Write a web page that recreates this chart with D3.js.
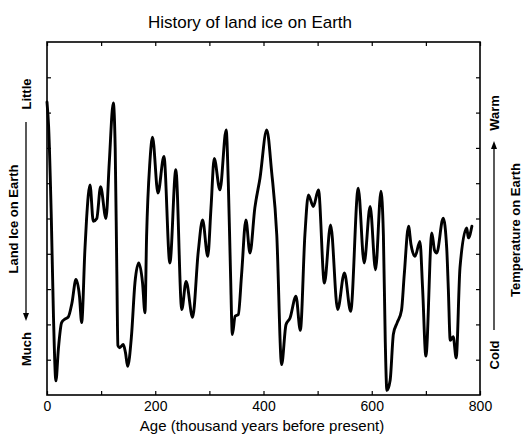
<!DOCTYPE html>
<html>
<head>
<meta charset="utf-8">
<script src="https://cdn.jsdelivr.net/npm/d3@7"></script>
<style>
  body { margin: 0; background: #fff; }
  svg { font-family: "Liberation Sans", Arial, Helvetica, sans-serif; }
</style>
</head>
<body>
<svg id="chart" width="523" height="444"></svg>
<script>
// age in thousand years before present
const ages = [0, 3, 8, 12, 16.5, 21, 27, 33, 39, 46, 53.5, 60, 64, 70, 73, 79.5, 85.5, 92, 99, 109,
  115, 122.5, 126, 129, 131, 134, 141, 145, 149, 156, 162.5, 169.5, 176.5, 181, 184, 190, 195, 205,
  216, 227, 238, 249, 257, 269, 279.5, 287.5, 297, 303, 309, 319.5, 331, 335, 339, 342.5, 347.5,
  353.5, 359.5, 367.5, 375, 384, 393.5, 406, 415, 424.5, 433.5, 441.5, 449, 460, 468, 476.5, 483,
  492, 501.5, 512.5, 524, 537, 549.5, 561, 575, 586, 597, 607, 617, 621.5, 625, 628, 634, 640, 647,
  655, 660, 668, 672.5, 680, 689, 694, 700, 711, 716, 720, 732, 738.5, 741.5, 745, 750.5, 756, 763,
  775.5, 778.5, 785];
// land ice index: high = little ice (warm), low = much ice (cold)
const iceLevel = [8.3, 7.6, 5.0, 2.2, 0.4, 1.3, 2.05, 2.15, 2.2, 2.6, 3.27, 2.8, 2.05, 4.1, 4.96, 5.95, 4.92, 5.0, 5.9, 5.0,
  6.57, 8.27, 7.0, 3.5, 1.4, 1.34, 1.43, 1.2, 0.81, 1.66, 3.18, 3.74, 3.18, 2.33, 4.49, 6.58, 7.3, 5.72,
  6.76, 3.74, 6.38, 2.42, 3.22, 2.2, 4.07, 4.96, 3.93, 5.3, 6.7, 5.81, 7.51, 6.0, 3.5, 1.71, 2.23,
  2.28, 3.41, 4.96, 4.02, 5.3, 6.14, 7.51, 6.33, 4.54, 0.86, 1.99, 2.18, 2.8, 1.83, 4.54, 5.67,
  5.34, 5.81, 3.17, 4.82, 2.42, 3.46, 2.37, 5.86, 3.74, 5.34, 3.55, 5.77, 4.54, 1.5, 0.13, 0.42, 1.73, 2.05,
  2.4, 3.4, 4.78, 4.26, 3.93, 4.35, 3.0, 1.1, 4.59, 4.1, 4.02, 5.01, 4.16, 3.0, 1.55, 1.65, 1.05, 3.6,
  4.73, 4.45, 4.78];

const xTicks = [0, 100, 200, 300, 400, 500, 600, 700, 800];
const xLabels = [0, 200, 400, 600, 800];
const yTicks = [1, 2, 3, 4, 5, 6, 7, 8, 9];

const data = ages.map((a, i) => ({age: a, v: iceLevel[i]}));

const svg = d3.select('#chart');
const margin = {top: 42, right: 43, bottom: 49, left: 47};
const width = +svg.attr('width');
const height = +svg.attr('height');
const chartRight = width - margin.right;
const chartBottom = height - margin.bottom;

const x = d3.scaleLinear().domain([0, 800]).range([margin.left, chartRight]);
const y = d3.scaleLinear().domain([0, 10]).range([chartBottom, margin.top]);

// title
svg.append('text')
  .attr('x', 250)
  .attr('y', 28)
  .attr('text-anchor', 'middle')
  .attr('font-size', '17px')
  .text('History of land ice on Earth');

// axes with inward ticks
const fmt = (d) => (xLabels.includes(d) ? d : '');
svg.append('g')
  .attr('transform', `translate(0,${chartBottom})`)
  .call(d3.axisBottom(x).tickValues(xTicks).tickSizeInner(-4).tickSizeOuter(0).tickPadding(6).tickFormat(fmt))
  .call((g) => g.select('.domain').remove())
  .call((g) => g.selectAll('text').attr('font-size', '14px').attr('fill', '#000').attr('font-family', null));

svg.append('g')
  .attr('transform', `translate(0,${margin.top})`)
  .call(d3.axisTop(x).tickValues(xTicks).tickSizeInner(-4).tickSizeOuter(0).tickFormat(''))
  .call((g) => g.select('.domain').remove());

svg.append('g')
  .attr('transform', `translate(${margin.left},0)`)
  .call(d3.axisLeft(y).tickValues(yTicks).tickSizeInner(-4).tickSizeOuter(0).tickFormat(''))
  .call((g) => g.select('.domain').remove());

svg.append('g')
  .attr('transform', `translate(${chartRight},0)`)
  .call(d3.axisRight(y).tickValues(yTicks).tickSizeInner(-4).tickSizeOuter(0).tickFormat(''))
  .call((g) => g.select('.domain').remove());

svg.selectAll('.tick line').attr('stroke', '#000').attr('stroke-width', 1.2);

// frame
svg.append('rect')
  .attr('x', margin.left)
  .attr('y', margin.top)
  .attr('width', chartRight - margin.left)
  .attr('height', chartBottom - margin.top)
  .attr('fill', 'none')
  .attr('stroke', '#000')
  .attr('stroke-width', 1.6);

// ice curve
const line = d3.line()
  .x((d) => x(d.age))
  .y((d) => y(d.v))
  .curve(d3.curveMonotoneX);

svg.append('path')
  .datum(data)
  .attr('d', line)
  .attr('fill', 'none')
  .attr('stroke', '#000')
  .attr('stroke-width', 2.9)
  .attr('stroke-linejoin', 'round')
  .attr('stroke-linecap', 'round');

// x label
svg.append('text')
  .attr('x', 262)
  .attr('y', 431)
  .attr('text-anchor', 'middle')
  .attr('font-size', '15px')
  .text('Age (thousand years before present)');

// side labels, rotated
function sideText(tx, ty, str) {
  svg.append('text')
    .attr('transform', `translate(${tx},${ty}) rotate(-90)`)
    .attr('text-anchor', 'middle')
    .attr('font-size', '13px')
    .attr('font-weight', 'bold')
    .text(str);
}

function arrow(ax, yFrom, yTo) {
  const dir = yTo > yFrom ? 1 : -1;
  svg.append('line')
    .attr('x1', ax).attr('x2', ax)
    .attr('y1', yFrom).attr('y2', yTo - dir * 6)
    .attr('stroke', '#000')
    .attr('stroke-width', 1.3);
  svg.append('path')
    .attr('d', `M${ax - 3},${yTo - dir * 8} L${ax},${yTo} L${ax + 3},${yTo - dir * 8} Z`)
    .attr('fill', '#000');
}

sideText(31, 94, 'Little');
sideText(31, 349, 'Much');
sideText(18, 219, 'Land Ice on Earth');
arrow(26, 122, 321);

sideText(499, 113, 'Warm');
sideText(499, 355, 'Cold');
sideText(520, 230, 'Temperature on Earth');
arrow(494, 330, 141);
</script>
</body>
</html>
